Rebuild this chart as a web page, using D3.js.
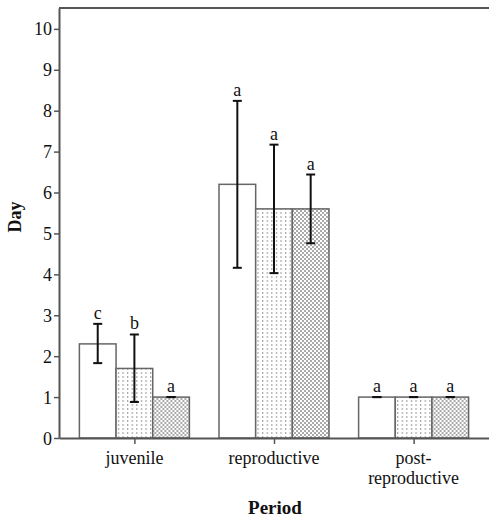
<!DOCTYPE html>
<html><head><meta charset="utf-8">
<script src="https://cdn.jsdelivr.net/npm/d3@7"></script>
<style>body{margin:0;background:#fff;} svg text{font-family:"Liberation Serif","Times New Roman",Times,"DejaVu Serif",serif !important;}</style>
</head><body>
<svg id="c" width="489" height="518"></svg>
<script>
const periods = ["juvenile", "reproductive", "post-reproductive"];
const periodLabels = [["juvenile"], ["reproductive"], ["post-", "reproductive"]];
const groups = ["g1", "g2", "g3"];
const means = [[2.3, 1.7, 1.0], [6.2, 5.6, 5.6], [1.0, 1.0, 1.0]];
const upper = [[2.79, 2.53, 1.0], [8.24, 7.17, 6.44], [1.0, 1.0, 1.0]];
const lower = [[1.83, 0.88, 1.0], [4.16, 4.03, 4.76], [1.0, 1.0, 1.0]];
const letters = [["c", "b", "a"], ["a", "a", "a"], ["a", "a", "a"]];
const yTicks = [0,1,2,3,4,5,6,7,8,9,10];

const FONT = '"Liberation Serif","Times New Roman",Times,"DejaVu Serif",serif';
const svg = d3.select("#c");
const L = 59, R = 489, T = 8, B = 438;
const axisCol = "#555";

const defs = svg.append("defs");
const p1 = defs.append("pattern").attr("id","pDash").attr("patternUnits","userSpaceOnUse")
  .attr("width",4.6).attr("height",4);
p1.append("rect").attr("width",4.6).attr("height",4).attr("fill","#fff");
p1.append("rect").attr("x",2).attr("y",0).attr("width",1).attr("height",2).attr("fill","#999");
const p2 = defs.append("pattern").attr("id","pDots").attr("patternUnits","userSpaceOnUse")
  .attr("width",4).attr("height",4);
p2.append("rect").attr("width",4).attr("height",4).attr("fill","#fff");
p2.append("rect").attr("x",0).attr("y",0).attr("width",2).attr("height",2).attr("fill","#aaa");
p2.append("rect").attr("x",2).attr("y",2).attr("width",2).attr("height",2).attr("fill","#aaa");
const fills = ["#fff", "url(#pDash)", "url(#pDots)"];

const y = d3.scaleLinear().domain([0, 10.51]).range([B, T]);
const x = d3.scalePoint().domain(periods).range([L, R]).padding(0.54);
const xi = d3.scaleBand().domain(groups).range([-55, 55]).padding(0);

periods.forEach((p, i) => {
  const g = svg.append("g").attr("transform", `translate(${x(p)},0)`);
  groups.forEach((s, j) => {
    g.append("rect").attr("x", xi(s)).attr("y", y(means[i][j]))
      .attr("width", xi.bandwidth()).attr("height", y(0) - y(means[i][j]))
      .attr("fill", fills[j]).attr("stroke", "#666").attr("stroke-width", 1.5);
  });
  groups.forEach((s, j) => {
    const cx = xi(s) + xi.bandwidth()/2;
    const yu = y(upper[i][j]), yl = y(lower[i][j]);
    g.append("line").attr("x1",cx).attr("x2",cx).attr("y1",yu).attr("y2",yl)
      .attr("stroke","#111").attr("stroke-width",2);
    g.append("line").attr("x1",cx-4.5).attr("x2",cx+4.5).attr("y1",yu).attr("y2",yu)
      .attr("stroke","#111").attr("stroke-width",2);
    g.append("line").attr("x1",cx-4.5).attr("x2",cx+4.5).attr("y1",yl).attr("y2",yl)
      .attr("stroke","#111").attr("stroke-width",2);
    g.append("text").attr("x",cx).attr("y",yu-5).attr("text-anchor","middle")
      .attr("font-family",FONT).attr("font-size",18).attr("fill","#111").text(letters[i][j]);
  });
});

svg.append("line").attr("x1",L).attr("x2",R).attr("y1",T).attr("y2",T).attr("stroke",axisCol).attr("stroke-width",2);

const ya = svg.append("g").attr("transform",`translate(${L},0)`)
  .call(d3.axisLeft(y).tickValues(yTicks).tickSize(5).tickSizeOuter(0).tickPadding(2));
ya.attr("font-family", FONT);
ya.select(".domain").attr("stroke",axisCol).attr("stroke-width",2);
ya.selectAll(".tick line").attr("stroke",axisCol).attr("stroke-width",1.5);
ya.selectAll(".tick text").attr("font-size",18).attr("fill","#111").attr("font-family",FONT).attr("dy","0.34em");

const xa = svg.append("g").attr("transform",`translate(0,${B})`)
  .call(d3.axisBottom(x).tickSize(6).tickSizeOuter(0).tickFormat(""));
xa.select(".domain").attr("stroke",axisCol).attr("stroke-width",2);
xa.selectAll(".tick line").attr("stroke",axisCol).attr("stroke-width",1.5);
periods.forEach((p, i) => {
  const t = svg.append("text").attr("x", x(p)).attr("y", 464).attr("text-anchor","middle")
    .attr("font-family",FONT).attr("font-size",18).attr("fill","#111");
  periodLabels[i].forEach((ln, k) => {
    t.append("tspan").attr("x", x(p)).attr("dy", k === 0 ? 0 : 20).text(ln);
  });
});

svg.append("text").attr("transform","translate(21,217) rotate(-90)").attr("text-anchor","middle")
  .attr("font-family",FONT).attr("font-size",18).attr("font-weight","bold").attr("fill","#111").text("Day");
svg.append("text").attr("x",275).attr("y",514).attr("text-anchor","middle")
  .attr("font-family",FONT).attr("font-size",19).attr("font-weight","bold").attr("fill","#111").text("Period");
</script>
</body></html>
